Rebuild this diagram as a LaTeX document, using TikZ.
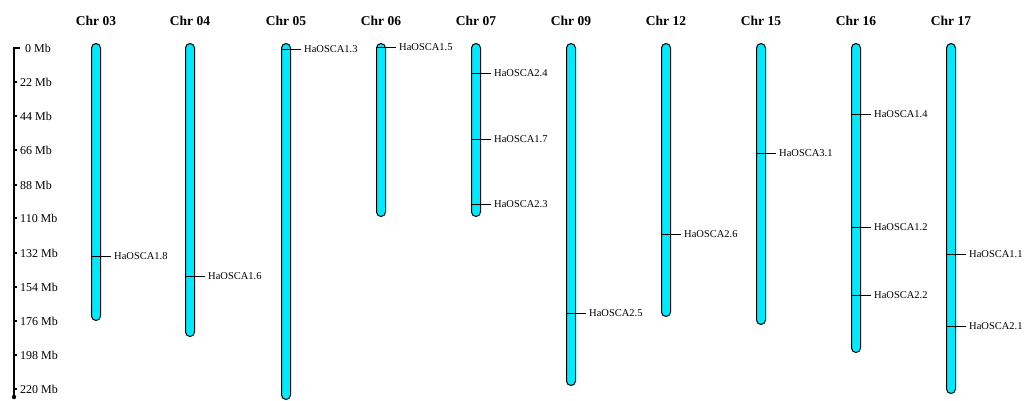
\documentclass[tikz,border=0pt]{standalone}
\usepackage{fontspec}
\setmainfont{Liberation Serif}
\definecolor{chrfill}{RGB}{0,234,255}
\begin{document}
\begin{tikzpicture}[x=1pt,y=-1pt,
  chrbox/.style={draw=black, line width=1pt, fill=chrfill, rounded corners=4.5pt, minimum width=9pt, inner sep=0pt, anchor=north},
  title/.style={font=\fontsize{13.5}{14}\selectfont\bfseries, inner sep=0pt},
  lab/.style={font=\fontsize{10.5}{11}\selectfont, inner sep=0pt, anchor=west},
  axlab/.style={font=\fontsize{12}{13}\selectfont, inner sep=0pt, anchor=west},
  markline/.style={line width=0.6pt}]
\useasboundingbox (0,0) rectangle (1024,400);
% axis
\coordinate (atop) at (14,47);
\coordinate (abot) at (14,396);
\draw[line width=2pt] (atop) -- (abot);
\fill (14,397) circle (2.2);
\draw[line width=2pt] (13,48) -- (20,48);
\node[axlab] (a0) at (25,48) {0 Mb};
\foreach \v/\y in {22/82,44/116,66/150,88/185,110/218,132/253,154/287,176/321,198/355,220/389}{
  \draw[line width=1.5pt] (14,\y) -- (17,\y);
  \node[axlab] (a\v) at (20,\y) {\v\ Mb};
}
% chromosomes
\foreach \n/\x/\b in {03/96/320,04/190/336,05/286/399,06/381/216,07/476/216,09/571/385,12/666/316,15/761/324,16/856/352,17/951/393}{
  \pgfmathsetmacro{\h}{\b-43}
  \node[chrbox, minimum height=\h pt] (c\n) at (\x,43) {};
  \node[title] (t\n) at (\x,21) {Chr \n};
}
% markers
\foreach \i/\c/\x/\y/\name in {1/03/96/256/HaOSCA1.8, 2/04/190/276/HaOSCA1.6, 3/05/286/49/HaOSCA1.3, 4/06/381/47/HaOSCA1.5,
  5/07/476/73/HaOSCA2.4, 6/07/476/139/HaOSCA1.7, 7/07/476/204/HaOSCA2.3, 8/09/571/313/HaOSCA2.5,
  9/12/666/234/HaOSCA2.6, 10/15/761/153/HaOSCA3.1, 11/16/856/114/HaOSCA1.4, 12/16/856/227/HaOSCA1.2,
  13/16/856/295/HaOSCA2.2, 14/17/951/254/HaOSCA1.1, 15/17/951/326/HaOSCA2.1}{
  \node[lab] (m\i) at (\x+18,\y) {\name};
  \draw[markline] (c\c.west |- m\i.west) -- ([xshift=-3pt]m\i.west);
}
\end{tikzpicture}
\end{document}
